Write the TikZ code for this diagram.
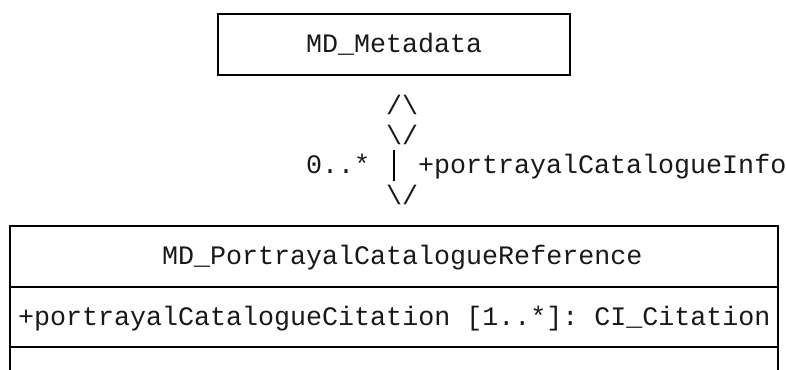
\documentclass[tikz,border=0pt]{standalone}
\usepackage{fontspec}
\setmonofont{Liberation Mono}
\begin{document}
\begin{tikzpicture}[x=1pt,y=-1pt,
  box/.style={draw=black, line width=1.9pt, inner sep=0pt, minimum height=60.6pt},
  txt/.style={inner sep=0pt, anchor=base west, font=\ttfamily\fontsize{26.67pt}{30pt}\selectfont, text=black!90},
  glyph/.style={inner sep=0pt, anchor=center, font=\ttfamily\fontsize{26.67pt}{30pt}\selectfont, text=black!90},
  assoc/.style={draw=black, line width=2.3pt}]
\useasboundingbox (0,0) rectangle (786,369);
\clip (0,0) rectangle (786,369);
% top class
\node[box, minimum width=352pt] (meta) at (394,44.3) {};
\node[txt] (metaname) at (306,52.3) {MD\_Metadata};
% aggregation diamond and association
\node[glyph] (d1) at (402,104.5) {/\textbackslash};
\node[glyph] (d2) at (402,134.5) {\textbackslash/};
\node[glyph] (d3) at (402,194.5) {\textbackslash/};
\draw[assoc] ([xshift=-8pt]d2.south |- 0,150) -- ([xshift=-8pt]d3.north |- 0,181);
\node[txt] (mult) at (306,173.5) {0..*};
\node[txt] (role) at (418,173.5) {+portrayalCatalogueInfo};
% bottom class
\node[box, minimum width=768pt] (title) at (394,256.4) {};
\node[box, minimum width=768pt] (attrs) at (394,317) {};
\node[box, minimum width=768pt] (ops) at (394,377.6) {};
\node[txt] (titletext) at (162,264.4) {MD\_PortrayalCatalogueReference};
\node[txt] (attrtext) at (18,325) {+portrayalCatalogueCitation [1..*]: CI\_Citation};
\end{tikzpicture}
\end{document}
